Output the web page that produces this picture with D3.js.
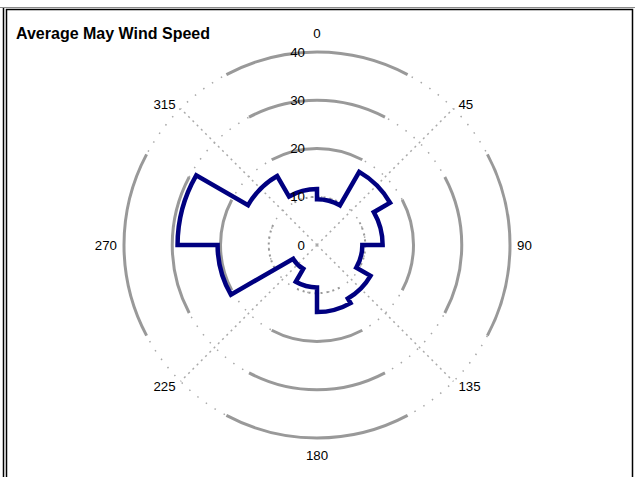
<!DOCTYPE html>
<html lang="en">
<head>
    <meta charset="UTF-8">
    <title>Average May Wind Speed</title>
    <script src="https://d3js.org/d3.v7.min.js"></script>
    <style>
        body {
            margin: 0;
            background-color: #fff;
        }

        text {
            font-family: Arial, "Liberation Sans", sans-serif;
            fill: #000;
        }

        .title {
            font-size: 16px;
            font-weight: bold;
        }

        .label {
            font-size: 13.3px;
        }
    </style>
</head>
<body>
    <svg width="635" height="477"></svg>

    <script>
        // wind direction bins (start angle, degrees) and average speed in each
        var binStarts = [0, 30, 60, 90, 120, 150, 180, 210, 240, 270, 300, 330];
        var speeds = [9.5, 17.5, 13.6, 9.4, 12.8, 13.9, 8.8, 5.7, 20.6, 28.9, 16.5, 11.6];
        var binWidth = 30;

        var rings = [10, 20, 30, 40];
        var radialTicks = [0, 10, 20, 30, 40];
        var angleTicks = [0, 45, 90, 135, 180, 225, 270, 315];
        var spokes = [45, 135, 225, 315];

        var width = 635, height = 477;
        var cx = 317, cy = 245;

        var svg = d3.select("svg");

        var r = d3.scaleLinear().domain([0, 40]).range([0, 193]);

        // compass degrees -> canvas radians (0 = north, clockwise)
        function rad(deg) { return (deg - 90) * Math.PI / 180; }
        function px(deg, rr) { return cx + rr * Math.sin(deg * Math.PI / 180); }
        function py(deg, rr) { return cy - rr * Math.cos(deg * Math.PI / 180); }

        // frame
        svg.append("line").attr("x1", 0).attr("x2", width).attr("y1", 7.5).attr("y2", 7.5)
            .attr("stroke", "#8a8a8a").attr("stroke-width", 1);
        svg.append("line").attr("x1", 3.5).attr("x2", 3.5).attr("y1", 8).attr("y2", height)
            .attr("stroke", "#000").attr("stroke-width", 1.5);
        svg.append("path")
            .attr("d", "M6.5," + height + "V9.5H632.5V" + height)
            .attr("fill", "none").attr("stroke", "#000").attr("stroke-width", 1.5);

        var grid = svg.append("g");

        // sparse dots all round each ring
        grid.selectAll(".ringdots")
            .data(rings)
            .enter().append("circle")
            .attr("cx", cx).attr("cy", cy)
            .attr("r", function(d) { return r(d); })
            .attr("fill", "none")
            .attr("stroke", "#a8a8a8")
            .attr("stroke-width", 1.5)
            .attr("stroke-dasharray", "1.5,9");

        // heavier arcs around the four compass points
        var arcParts = [];
        rings.forEach(function(v) {
            [0, 90, 180, 270].forEach(function(a) {
                arcParts.push({ value: v, angle: a });
            });
        });

        grid.selectAll(".ringarc")
            .data(arcParts)
            .enter().append("path")
            .attr("d", function(d) {
                var p = d3.path();
                p.arc(cx, cy, r(d.value), rad(d.angle - 28), rad(d.angle + 28));
                return p.toString();
            })
            .attr("fill", "none")
            .attr("stroke", "#999")
            .attr("stroke-width", function(d) { return d.value === 10 ? 2 : 3; })
            .attr("stroke-dasharray", function(d) { return d.value === 10 ? "2,4" : null; });

        // dotted diagonal spokes
        grid.selectAll(".spoke")
            .data(spokes)
            .enter().append("line")
            .attr("x1", cx).attr("y1", cy)
            .attr("x2", function(d) { return px(d, r(40)); })
            .attr("y2", function(d) { return py(d, r(40)); })
            .attr("stroke", "#aaa")
            .attr("stroke-width", 1.5)
            .attr("stroke-dasharray", "2,4");

        // the speed outline: one arc per direction bin, radial steps between
        var outline = d3.path();
        binStarts.forEach(function(a, i) {
            outline.arc(cx, cy, r(speeds[i]), rad(a), rad(a + binWidth));
        });
        outline.closePath();

        svg.append("path")
            .attr("d", outline.toString())
            .attr("fill", "none")
            .attr("stroke", "#000080")
            .attr("stroke-width", 4.5)
            .attr("stroke-linejoin", "miter");

        // radial value labels up the north axis
        svg.selectAll(".rlabel")
            .data(radialTicks)
            .enter().append("text")
            .attr("class", "label")
            .attr("x", cx - 12)
            .attr("y", function(d) { return cy - r(d); })
            .attr("dy", "0.35em")
            .attr("text-anchor", "end")
            .text(function(d) { return d; });

        // compass angle labels
        svg.selectAll(".alabel")
            .data(angleTicks)
            .enter().append("text")
            .attr("class", "label")
            .attr("x", function(d) { return px(d, 200); })
            .attr("y", function(d) { return py(d, 200); })
            .attr("dy", function(d) {
                if (d === 0) return -7;
                if (d === 180) return 15;
                return 5;
            })
            .attr("text-anchor", function(d) {
                var s = Math.sin(d * Math.PI / 180);
                if (s > 0.1) return "start";
                if (s < -0.1) return "end";
                return "middle";
            })
            .text(function(d) { return d; });

        svg.append("text")
            .attr("class", "title")
            .attr("x", 16)
            .attr("y", 39)
            .text("Average May Wind Speed");
    </script>
</body>
</html>
